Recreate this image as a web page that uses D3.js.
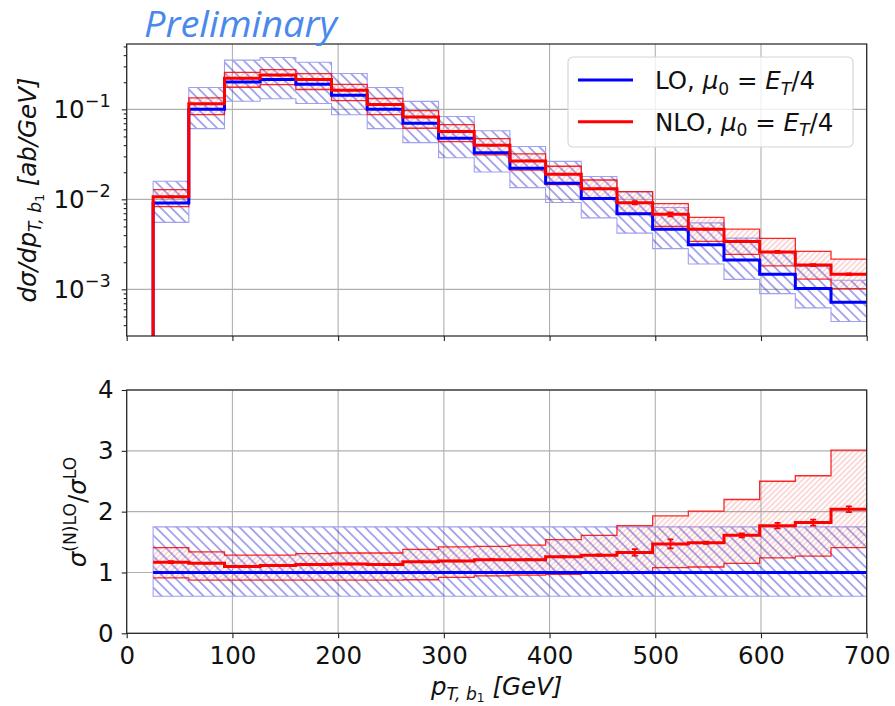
<!DOCTYPE html>
<html>
<head>
<meta charset="utf-8">
<script src="https://cdn.jsdelivr.net/npm/d3@7"></script>
<style>
  body { margin: 0; background: #fff; }
  svg { display: block; }
  text { white-space: pre; }
</style>
</head>
<body>
<svg id="chart" width="895" height="706"></svg>
<script>
// ---- data: leading b-jet transverse momentum spectrum ----
const binEdges = [25, 58.75, 92.5, 126.25, 160, 193.75, 227.5, 261.25, 295, 328.75, 362.5,
                  396.25, 430, 463.75, 497.5, 531.25, 565, 598.75, 632.5, 666.25, 700];

// dσ/dpT [ab/GeV], LO with scale band
const loCentral = [0.0091, 0.100, 0.201, 0.215, 0.190, 0.143, 0.100, 0.070, 0.0476, 0.033,
                   0.0221, 0.0151, 0.0102, 0.0069, 0.00464, 0.00313, 0.00212, 0.00147, 0.00102, 0.00072];
const loUp      = [0.0159, 0.175, 0.352, 0.376, 0.333, 0.250, 0.175, 0.1225, 0.0833, 0.0578,
                   0.0387, 0.0264, 0.0179, 0.0121, 0.00812, 0.00548, 0.00371, 0.00257, 0.00179, 0.00126];
const loDown    = [0.00555, 0.061, 0.123, 0.131, 0.116, 0.0872, 0.061, 0.0427, 0.0290, 0.0201,
                   0.0135, 0.00921, 0.00622, 0.00421, 0.00283, 0.00191, 0.00129, 0.000897, 0.000622, 0.000439];

// dσ/dpT [ab/GeV], NLO with scale band
const nloCentral = [0.01065, 0.115, 0.221, 0.240, 0.215, 0.163, 0.113, 0.0823, 0.0566, 0.0399,
                    0.0267, 0.0190, 0.0131, 0.00918, 0.00682, 0.00466, 0.00341, 0.00260, 0.00186, 0.00147];
const nloUp      = [0.01283, 0.134, 0.258, 0.276, 0.249, 0.189, 0.132, 0.0966, 0.0676, 0.0472,
                    0.0320, 0.0233, 0.0164, 0.0122, 0.00896, 0.00629, 0.00466, 0.00368, 0.00264, 0.00217];
const nloDown    = [0.00828, 0.0875, 0.176, 0.188, 0.166, 0.125, 0.0875, 0.0616, 0.0438, 0.0312,
                    0.0211, 0.0146, 0.0100, 0.00697, 0.00501, 0.00341, 0.00244, 0.00182, 0.00130, 0.00102];
// relative Monte Carlo uncertainty of the NLO prediction
const nloRelErr  = [0.015, 0.005, 0.004, 0.004, 0.004, 0.004, 0.005, 0.005, 0.005, 0.006,
                    0.006, 0.008, 0.008, 0.040, 0.050, 0.012, 0.020, 0.025, 0.027, 0.023];

// ratios to the LO central value
const ratioLoUp    = [1.75, 1.75, 1.75, 1.75, 1.75, 1.75, 1.75, 1.75, 1.75, 1.75,
                      1.75, 1.75, 1.75, 1.75, 1.75, 1.75, 1.75, 1.75, 1.75, 1.75];
const ratioLoDown  = [0.61, 0.61, 0.61, 0.61, 0.61, 0.61, 0.61, 0.61, 0.61, 0.61,
                      0.61, 0.61, 0.61, 0.61, 0.61, 0.61, 0.61, 0.61, 0.61, 0.61];
const ratioNlo     = [1.17, 1.15, 1.10, 1.115, 1.13, 1.14, 1.13, 1.175, 1.19, 1.21,
                      1.21, 1.26, 1.285, 1.33, 1.47, 1.49, 1.61, 1.77, 1.82, 2.04];
const ratioNloUp   = [1.41, 1.34, 1.285, 1.285, 1.31, 1.32, 1.32, 1.38, 1.42, 1.43,
                      1.45, 1.54, 1.61, 1.77, 1.93, 2.01, 2.20, 2.50, 2.59, 3.01];
const ratioNloDown = [0.91, 0.875, 0.875, 0.875, 0.875, 0.875, 0.875, 0.88, 0.92, 0.945,
                      0.955, 0.97, 0.985, 1.01, 1.08, 1.09, 1.15, 1.24, 1.27, 1.41];

// axis ticks
const xTicks = [0, 100, 200, 300, 400, 500, 600, 700];
const topTickExponents = [-3, -2, -1];
const ratioTicks = [0, 1, 2, 3, 4];
const legendLabels = ["LO", "NLO"];

// ---- layout ----
const FONT = "DejaVu Sans, Liberation Sans, sans-serif";
const FS = 24.5;
const left = 126.7, right = 866.7;
const topP = { y0: 44, y1: 336 };
const ratP = { y0: 390, y1: 633.3 };
const BLUE = "#0000ff", RED = "#ff0000";

const svg = d3.select("#chart");

const x = d3.scaleLinear().domain([0, 700]).range([left, right]);
const yTop = d3.scaleLog().domain([3.03e-4, 0.532]).range([topP.y1, topP.y0]);
const yRat = d3.scaleLinear().domain([0, 4]).range([ratP.y1, ratP.y0]);

// ---- hatch patterns and clipping ----
const defs = svg.append("defs");
function hatch(id, spacing, angle, color, opacity, width) {
  const p = defs.append("pattern").attr("id", id)
    .attr("patternUnits", "userSpaceOnUse")
    .attr("width", spacing).attr("height", spacing)
    .attr("patternTransform", `rotate(${angle})`);
  p.append("line").attr("x1", 0).attr("x2", spacing)
    .attr("y1", spacing / 2).attr("y2", spacing / 2)
    .attr("stroke", color).attr("stroke-opacity", opacity).attr("stroke-width", width);
}
hatch("hatchLO", 7.4, 45, "#2a2ad6", 0.72, 1.1);
hatch("hatchNLO", 3.9, -45, "#f05050", 0.55, 0.8);

defs.append("clipPath").attr("id", "clipTop").append("rect")
  .attr("x", left).attr("y", topP.y0).attr("width", right - left).attr("height", topP.y1 - topP.y0);
defs.append("clipPath").attr("id", "clipRat").append("rect")
  .attr("x", left).attr("y", ratP.y0).attr("width", right - left).attr("height", ratP.y1 - ratP.y0);

// step helpers (value of bin i held from edge i to edge i+1)
const stepPts = vals => vals.map((v, i) => ({ x: binEdges[i], v }))
  .concat([{ x: binEdges[binEdges.length - 1], v: vals[vals.length - 1] }]);
const bandPts = (lo, hi) => lo.map((v, i) => ({ x: binEdges[i], lo: v, hi: hi[i] }))
  .concat([{ x: binEdges[binEdges.length - 1], lo: lo[lo.length - 1], hi: hi[hi.length - 1] }]);
const binCenter = i => (binEdges[i] + binEdges[i + 1]) / 2;

// ---- grid ----
function grid(yScale, yVals, panel) {
  const g = svg.append("g").attr("stroke", "#b0b0b0").attr("stroke-width", 1.1);
  xTicks.forEach(t => g.append("line").attr("x1", x(t)).attr("x2", x(t))
    .attr("y1", panel.y0).attr("y2", panel.y1));
  yVals.forEach(v => g.append("line").attr("x1", left).attr("x2", right)
    .attr("y1", yScale(v)).attr("y2", yScale(v)));
}
grid(yTop, topTickExponents.map(e => Math.pow(10, e)), topP);
grid(yRat, ratioTicks, ratP);

// ---- panel contents ----
function drawPanel(yScale, clipId, d) {
  const g = svg.append("g").attr("clip-path", `url(#${clipId})`);
  const area = d3.area().x(p => x(p.x)).y0(p => yScale(p.lo)).y1(p => yScale(p.hi)).curve(d3.curveStepAfter);
  const line = d3.line().x(p => x(p.x)).y(p => yScale(p.v)).curve(d3.curveStepAfter);

  // LO band
  g.append("path").attr("d", area(bandPts(d.loDown, d.loUp)))
    .attr("fill", "url(#hatchLO)").attr("stroke", "#a0a0f0").attr("stroke-width", 1.1);
  // NLO band
  g.append("path").attr("d", area(bandPts(d.nloDown, d.nloUp)))
    .attr("fill", "url(#hatchNLO)").attr("stroke", "none");
  [d.nloDown, d.nloUp].forEach(vals =>
    g.append("path").attr("d", line(stepPts(vals)))
      .attr("fill", "none").attr("stroke", RED).attr("stroke-opacity", 0.85).attr("stroke-width", 1.3));
  // LO central
  const loPts = (d.drop ? [{ x: binEdges[0], v: yScale.domain()[0] }] : []).concat(stepPts(d.lo));
  g.append("path").attr("d", line(loPts))
    .attr("fill", "none").attr("stroke", BLUE).attr("stroke-width", 3);
  // NLO central
  const nloPts = (d.drop ? [{ x: binEdges[0], v: yScale.domain()[0] }] : []).concat(stepPts(d.nlo));
  g.append("path").attr("d", line(nloPts))
    .attr("fill", "none").attr("stroke", RED).attr("stroke-width", 3);
  // NLO statistical error bars
  d.nlo.forEach((v, i) => {
    const cx = x(binCenter(i));
    const ya = yScale(v * (1 - nloRelErr[i])), yb = yScale(v * (1 + nloRelErr[i]));
    const eb = g.append("g").attr("stroke", RED).attr("stroke-width", 1.8);
    eb.append("line").attr("x1", cx).attr("x2", cx).attr("y1", ya).attr("y2", yb);
    eb.append("line").attr("x1", cx - 3).attr("x2", cx + 3).attr("y1", ya).attr("y2", ya);
    eb.append("line").attr("x1", cx - 3).attr("x2", cx + 3).attr("y1", yb).attr("y2", yb);
  });
}
drawPanel(yTop, "clipTop", {
  lo: loCentral, loUp, loDown, nlo: nloCentral, nloUp, nloDown, drop: true
});
drawPanel(yRat, "clipRat", {
  lo: loCentral.map(() => 1), loUp: ratioLoUp, loDown: ratioLoDown,
  nlo: ratioNlo, nloUp: ratioNloUp, nloDown: ratioNloDown, drop: false
});

// ---- axes ----
function styleAxis(g) {
  g.select(".domain").remove();
  g.selectAll(".tick line").attr("stroke", "#222").attr("stroke-width", 1.1);
  g.selectAll("text").attr("font-family", FONT).attr("font-size", FS).attr("fill", "#111");
}
// top panel
svg.append("g").attr("transform", `translate(0,${topP.y1})`)
  .call(d3.axisBottom(x).tickValues(xTicks).tickSize(5).tickFormat(""))
  .call(styleAxis);
svg.append("g").attr("transform", `translate(${left},0)`)
  .call(d3.axisLeft(yTop).tickValues(topTickExponents.map(e => Math.pow(10, e))).tickSize(5).tickFormat(""))
  .call(styleAxis);
const minorVals = yTop.ticks().filter(v => Math.abs(Math.log10(v) - Math.round(Math.log10(v))) > 1e-6);
svg.append("g").attr("transform", `translate(${left},0)`)
  .call(d3.axisLeft(yTop).tickValues(minorVals).tickSize(3).tickFormat(""))
  .call(styleAxis);
// 10^n labels
topTickExponents.forEach(e => {
  const t = svg.append("text").attr("x", left - 16).attr("y", yTop(Math.pow(10, e)) + 8.9)
    .attr("text-anchor", "end").attr("font-family", FONT).attr("font-size", FS).attr("fill", "#111");
  t.append("tspan").text("10");
  t.append("tspan").attr("dy", -11).attr("font-size", FS * 0.72).text("\u2212" + Math.abs(e));
});

// ratio panel
svg.append("g").attr("transform", `translate(0,${ratP.y1})`)
  .call(d3.axisBottom(x).tickValues(xTicks).tickSize(5).tickPadding(8.3).tickFormat(d3.format("d")))
  .call(styleAxis);
svg.append("g").attr("transform", `translate(${left},0)`)
  .call(d3.axisLeft(yRat).tickValues(ratioTicks).tickSize(5).tickPadding(8).tickFormat(d3.format("d")))
  .call(styleAxis);

// frames
[topP, ratP].forEach(p => svg.append("rect")
  .attr("x", left).attr("y", p.y0).attr("width", right - left).attr("height", p.y1 - p.y0)
  .attr("fill", "none").attr("stroke", "#222").attr("stroke-width", 1.2));

// ---- math-style text ----
function mathText(sel, parts, size, subShift, subsubShift) {
  const s1 = subShift == null ? 0.22 : subShift;
  const s2 = subsubShift == null ? 0.1 : subsubShift;
  const shifts = {
    base: { dy: 0, fs: size },
    sub: { dy: s1 * size, fs: 0.7 * size },
    subsub: { dy: (s1 + s2) * size, fs: 0.5 * size },
    sup: { dy: -0.42 * size, fs: 0.7 * size }
  };
  let cur = 0;
  parts.forEach(([str, kind, italic]) => {
    const c = shifts[kind];
    sel.append("tspan").attr("dy", c.dy - cur).attr("font-size", c.fs)
      .attr("font-style", italic ? "italic" : "normal").text(str);
    cur = c.dy;
  });
}
function label(xp, yp, rotate, parts, s1, s2) {
  const t = svg.append("text")
    .attr("transform", `translate(${xp},${yp}) rotate(${rotate})`)
    .attr("text-anchor", "middle")
    .attr("font-family", FONT).attr("font-size", FS).attr("fill", "#111");
  mathText(t, parts, FS, s1, s2);
  return t;
}

// y label, spectrum
label(36, 190, -90, [
  ["d\u03C3/dp", "base", true], ["T, b", "sub", true], ["1", "subsub", false],
  [" [ab/GeV]", "base", true]
]);
// y label, ratio
label(86, 512, -90, [
  ["\u03C3", "base", true], ["(N)LO", "sup", false], ["/", "base", false],
  ["\u03C3", "base", true], ["LO", "sup", false]
]);
// x label
label((left + right) / 2, 695, 0, [
  ["p", "base", true], ["T, b", "sub", true], ["1", "subsub", false],
  [" [GeV]", "base", true]
], 0.2, 0.07);

// ---- legend ----
const lg = svg.append("g");
lg.append("rect").attr("x", 568).attr("y", 57).attr("width", 285).attr("height", 90)
  .attr("rx", 5).attr("fill", "#fff").attr("fill-opacity", 0.8)
  .attr("stroke", "#d4d4d4").attr("stroke-width", 1.1);
[[BLUE, 80, 89.3], [RED, 121.7, 130.7]].forEach(([col, ly, ty], i) => {
  lg.append("line").attr("x1", 578).attr("x2", 633).attr("y1", ly).attr("y2", ly)
    .attr("stroke", col).attr("stroke-width", 3);
  const t = lg.append("text").attr("x", 655).attr("y", ty)
    .attr("font-family", FONT).attr("font-size", FS).attr("fill", "#111");
  mathText(t, [
    [legendLabels[i] + ", ", "base", false], ["\u03BC", "base", true], ["0", "sub", false],
    [" = ", "base", false], ["E", "base", true], ["T", "sub", true], ["/4", "base", false]
  ], FS);
});

// ---- watermark ----
svg.append("text").attr("x", 144).attr("y", 37)
  .attr("font-family", "Open Sans, Lato, DejaVu Sans, sans-serif")
  .attr("font-style", "italic").attr("font-size", 36)
  .attr("textLength", 193).attr("lengthAdjust", "spacingAndGlyphs")
  .attr("fill", "#4a89ec").text("Preliminary");
</script>
</body>
</html>
